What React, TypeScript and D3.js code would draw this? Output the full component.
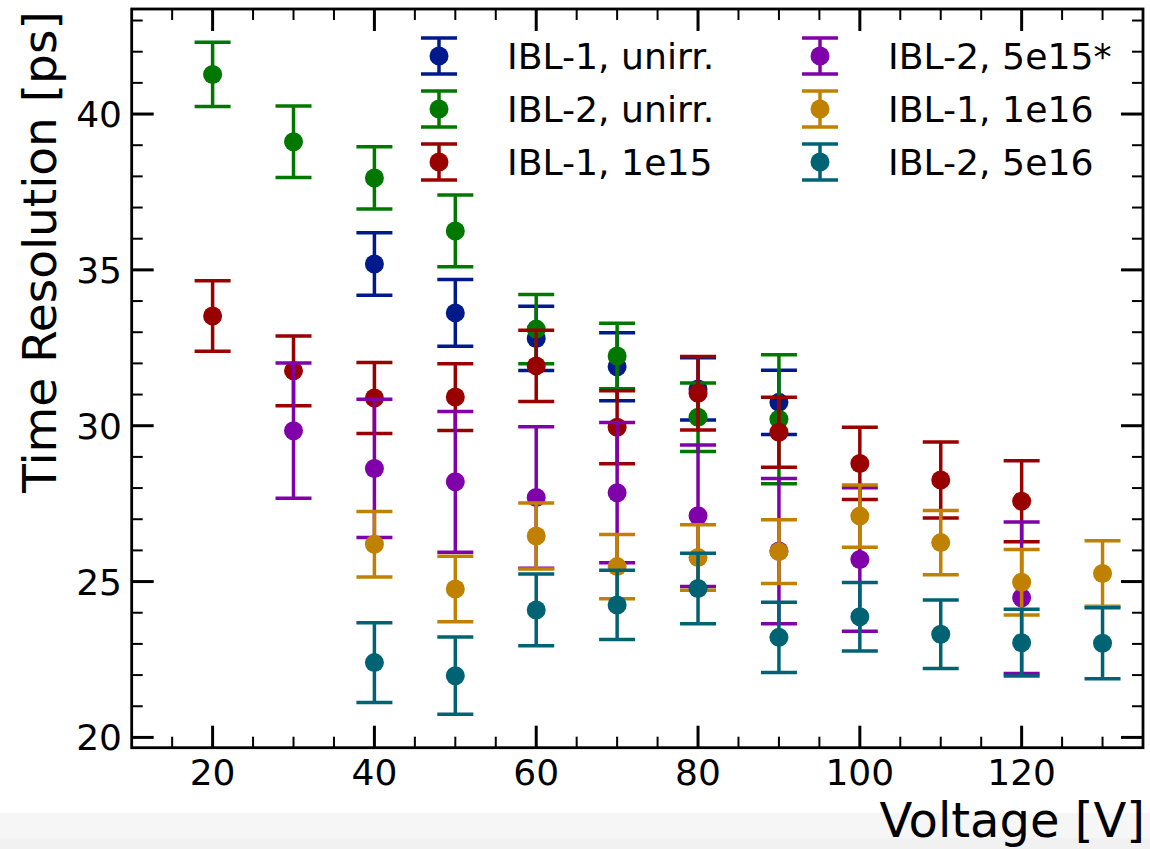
import React from "react";
import * as d3 from "d3";

const seriesNames = ["IBL-1, unirr.", "IBL-2, unirr.", "IBL-1, 1e15", "IBL-2, 5e15*", "IBL-1, 1e16", "IBL-2, 5e16"];
const seriesColors = ["#001a8c", "#007800", "#990000", "#8000aa", "#c08000", "#006374"];

const blueX = [40, 50, 60, 70, 80, 90];
const blueY = [35.19, 33.62, 32.8, 31.89, 31.18, 30.75];
const blueErr = [1.0, 1.07, 1.03, 1.09, 1.0, 1.03];

const greenX = [20, 30, 40, 50, 60, 70, 80, 90];
const greenY = [41.27, 39.11, 37.95, 36.25, 33.1, 32.24, 30.27, 30.21];
const greenErr = [1.03, 1.15, 1.0, 1.15, 1.11, 1.05, 1.1, 2.07];

const redX = [20, 30, 40, 50, 60, 70, 80, 90, 100, 110, 120];
const redY = [33.52, 31.76, 30.89, 30.92, 31.92, 29.95, 31.04, 29.79, 28.79, 28.26, 27.58];
const redErr = [1.13, 1.12, 1.14, 1.07, 1.14, 1.17, 1.18, 1.12, 1.16, 1.22, 1.3];

const purpleX = [30, 40, 50, 60, 70, 80, 90, 100, 120];
const purpleY = [29.84, 28.63, 28.2, 27.7, 27.85, 27.11, 25.98, 25.71, 24.48];
const purpleErr = [2.17, 2.22, 2.26, 2.27, 2.25, 2.27, 2.33, 2.3, 2.43];

const goldX = [40, 50, 60, 70, 80, 90, 100, 110, 120, 130];
const goldY = [26.2, 24.76, 26.46, 25.48, 25.77, 25.96, 27.1, 26.25, 24.98, 25.26];
const goldErr = [1.05, 1.05, 1.06, 1.03, 1.05, 1.02, 1.0, 1.03, 1.05, 1.05];

const tealX = [40, 50, 60, 70, 80, 90, 100, 110, 120, 130];
const tealY = [22.4, 21.98, 24.09, 24.25, 24.78, 23.21, 23.87, 23.31, 23.04, 23.02];
const tealErr = [1.28, 1.24, 1.15, 1.11, 1.13, 1.13, 1.1, 1.1, 1.07, 1.14];

const xMajor = [20, 40, 60, 80, 100, 120];
const yMajor = [20, 25, 30, 35, 40];

const allX = [blueX, greenX, redX, purpleX, goldX, tealX];
const allY = [blueY, greenY, redY, purpleY, goldY, tealY];
const allErr = [blueErr, greenErr, redErr, purpleErr, goldErr, tealErr];

const FONT = "DejaVu Sans, sans-serif";

export default function App() {
  const left = 131.7, right = 1143, top = 9, bottom = 747.7;
  const x = d3.scaleLinear().domain([10, 135]).range([left, right]);
  const y = d3.scaleLinear().domain([19.67, 43.37]).range([bottom, top]);

  const xMinor = d3.range(15, 135, 5).filter((v) => !xMajor.includes(v));
  const yMinor = d3.range(20, 44, 1).filter((v) => !yMajor.includes(v));

  const capHalf = 18;
  const r = 9.5;
  const ebw = 3.5;

  const legendRows = [56, 109, 162];
  const legendCols = [439, 820];
  const legendTextDx = 68;

  return (
    <svg width={1150} height={849} style={{ position: "fixed", left: 0, top: 0, background: "#fff" }}>
      <rect x={0} y={0} width={1150} height={849} fill="#ffffff" />
      <rect x={0} y={813} width={1150} height={36} fill="#f6f6f6" />
      <rect x={0} y={838} width={1150} height={11} fill="#f1f1f1" />

      {allX.map((xs, si) => (
        <g key={si}>
          {xs.map((xv, i) => {
            const cx = x(xv);
            const yv = allY[si][i];
            const e = allErr[si][i];
            const y1 = y(yv + e), y2 = y(yv - e);
            return (
              <g key={i}>
                <line x1={cx} x2={cx} y1={y1} y2={y2} stroke={seriesColors[si]} strokeWidth={ebw} />
                <line x1={cx - capHalf} x2={cx + capHalf} y1={y1} y2={y1} stroke={seriesColors[si]} strokeWidth={ebw} />
                <line x1={cx - capHalf} x2={cx + capHalf} y1={y2} y2={y2} stroke={seriesColors[si]} strokeWidth={ebw} />
                <circle cx={cx} cy={y(yv)} r={r} fill={seriesColors[si]} />
              </g>
            );
          })}
        </g>
      ))}

      {xMajor.map((v) => (
        <g key={"xm" + v}>
          <line x1={x(v)} x2={x(v)} y1={bottom} y2={bottom - 22} stroke="#000" strokeWidth={3} />
          <line x1={x(v)} x2={x(v)} y1={top} y2={top + 22} stroke="#000" strokeWidth={3} />
          <text x={x(v)} y={785} textAnchor="middle" fontFamily={FONT} fontSize={36} fill="#000">{v}</text>
        </g>
      ))}
      {xMinor.map((v) => (
        <g key={"xn" + v}>
          <line x1={x(v)} x2={x(v)} y1={bottom} y2={bottom - 11} stroke="#000" strokeWidth={2} />
          <line x1={x(v)} x2={x(v)} y1={top} y2={top + 11} stroke="#000" strokeWidth={2} />
        </g>
      ))}
      {yMajor.map((v) => (
        <g key={"ym" + v}>
          <line x1={left} x2={left + 22} y1={y(v)} y2={y(v)} stroke="#000" strokeWidth={3} />
          <line x1={right} x2={right - 22} y1={y(v)} y2={y(v)} stroke="#000" strokeWidth={3} />
          <text x={122} y={y(v) + 13} textAnchor="end" fontFamily={FONT} fontSize={36} fill="#000">{v}</text>
        </g>
      ))}
      {yMinor.map((v) => (
        <g key={"yn" + v}>
          <line x1={left} x2={left + 11} y1={y(v)} y2={y(v)} stroke="#000" strokeWidth={2} />
          <line x1={right} x2={right - 11} y1={y(v)} y2={y(v)} stroke="#000" strokeWidth={2} />
        </g>
      ))}

      <rect x={left} y={top} width={right - left} height={bottom - top} fill="none" stroke="#000" strokeWidth={2.8} />

      <text x={1145} y={837} textAnchor="end" fontFamily={FONT} fontSize={48} fill="#000">Voltage [V]</text>
      <text transform="translate(56,252) rotate(-90)" textAnchor="middle" fontFamily={FONT} fontSize={47} fill="#000">Time Resolution [ps]</text>

      {seriesNames.map((name, i) => {
        const col = Math.floor(i / 3);
        const row = i % 3;
        const mx = legendCols[col];
        const my = legendRows[row];
        return (
          <g key={"lg" + i}>
            <line x1={mx} x2={mx} y1={my - capHalf} y2={my + capHalf} stroke={seriesColors[i]} strokeWidth={ebw} />
            <line x1={mx - capHalf} x2={mx + capHalf} y1={my - capHalf} y2={my - capHalf} stroke={seriesColors[i]} strokeWidth={ebw} />
            <line x1={mx - capHalf} x2={mx + capHalf} y1={my + capHalf} y2={my + capHalf} stroke={seriesColors[i]} strokeWidth={ebw} />
            <circle cx={mx} cy={my} r={r} fill={seriesColors[i]} />
            <text x={mx + legendTextDx} y={my + 12.5} fontFamily={FONT} fontSize={36.2} fill="#000">{name}</text>
          </g>
        );
      })}
    </svg>
  );
}
